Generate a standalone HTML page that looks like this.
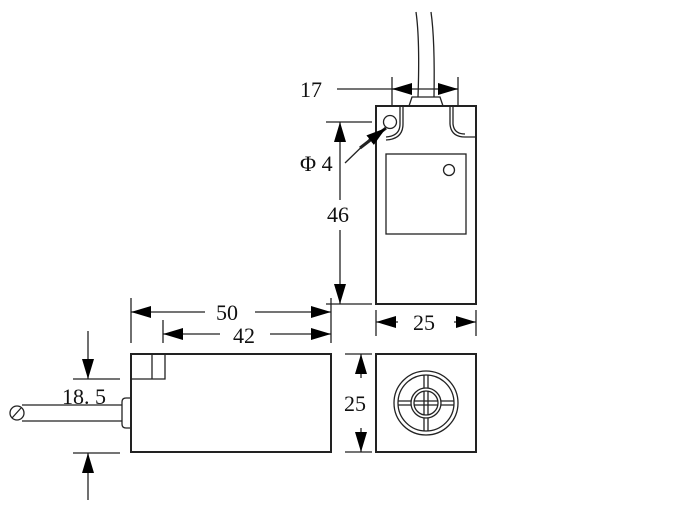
<!DOCTYPE html>
<html><head><style>body{margin:0;background:#fff}svg{display:block}text{font-family:"Liberation Serif",serif;font-size:22px;fill:#111}</style></head><body>
<svg width="700" height="507" viewBox="0 0 700 507" xmlns="http://www.w3.org/2000/svg">
<defs>
<marker id="a" viewBox="0 0 20 12" refX="20" refY="6" markerWidth="20" markerHeight="12" markerUnits="userSpaceOnUse" orient="auto"><path d="M0,0L20,6L0,12z" fill="#000"/></marker>
</defs>
<g stroke="#222" stroke-width="1.3" fill="none">
<path d="M416,12 Q420,40 418,97 M431,12 Q435,40 434,97"/>
<path d="M409,106 L412,97 L440,97 L443,106"/>
<rect x="376" y="106" width="100" height="198" stroke-width="2"/>
<rect x="386" y="154" width="80" height="80"/>
<circle cx="449" cy="170" r="5.5"/>
<circle cx="390" cy="122" r="6.5"/>
<path d="M400,106 V124 Q400,136 386,137 M403,106 V124 Q403,139 386,140"/>
<path d="M450,106 V124 Q451,137 465,137 H476 M453,106 V124 Q454,134 465,134"/>
<path d="M392,77 V106 M458,77 V106"/>
<path d="M337,89 H392 M392,89 H458"/>
<path d="M412,89 H392" marker-end="url(#a)"/>
<path d="M438,89 H458" marker-end="url(#a)"/>
<path d="M326,122 H372 M326,304 H372"/>
<path d="M340,200 V122" marker-end="url(#a)"/>
<path d="M340,230 V304" marker-end="url(#a)"/>
<path d="M345,163 L376,133"/>
<path d="M360,148 L386,128" marker-end="url(#a)" stroke-width="3"/>
<path d="M376,310 V336 M476,310 V336"/>
<path d="M398,322 H376" marker-end="url(#a)"/>
<path d="M454,322 H476" marker-end="url(#a)"/>
<rect x="376" y="354" width="100" height="98" stroke-width="2"/>
<circle cx="426" cy="403" r="32"/><circle cx="426" cy="403" r="28"/>
<circle cx="426" cy="403" r="15"/><circle cx="426" cy="403" r="12"/>
<path d="M424,375 V388 M428,375 V388 M424,418 V431 M428,418 V431 M398,401 H411 M398,405 H411 M441,401 H454 M441,405 H454"/>
<path d="M424,391 V415 M428,391 V415 M414,401 H438 M414,405 H438"/>
<path d="M345,354 H372 M345,452 H372"/>
<path d="M361,378 V354" marker-end="url(#a)"/>
<path d="M361,428 V452" marker-end="url(#a)"/>
<rect x="131" y="354" width="200" height="98" stroke-width="2"/>
<path d="M131,379 H165 V354 M152,354 V379"/>
<path d="M22,405 H122 M22,421 H122"/>
<path d="M131,398 H126 Q122,398 122,402 V424 Q122,428 126,428 H131"/>
<circle cx="17" cy="413" r="7"/><path d="M12,418 L21,408"/>
<path d="M131,298 V343 M331,298 V343 M163,320 V343"/>
<path d="M205,312 H131" marker-end="url(#a)"/>
<path d="M255,312 H331" marker-end="url(#a)"/>
<path d="M220,334 H163" marker-end="url(#a)"/>
<path d="M270,334 H331" marker-end="url(#a)"/>
<path d="M73,379 H120 M73,453 H120"/>
<path d="M88,331 V379" marker-end="url(#a)"/>
<path d="M88,500 V453" marker-end="url(#a)"/>
</g>
<text x="300" y="97">17</text>
<rect x="328" y="200" width="26" height="26" fill="#fff"/>
<text x="327" y="222">46</text>
<text x="300" y="171">Φ 4</text>
<text x="413" y="330">25</text>
<text x="344" y="411">25</text>
<text x="216" y="320">50</text>
<text x="233" y="343">42</text>
<text x="62" y="404">18. 5</text>
</svg>
</body></html>
